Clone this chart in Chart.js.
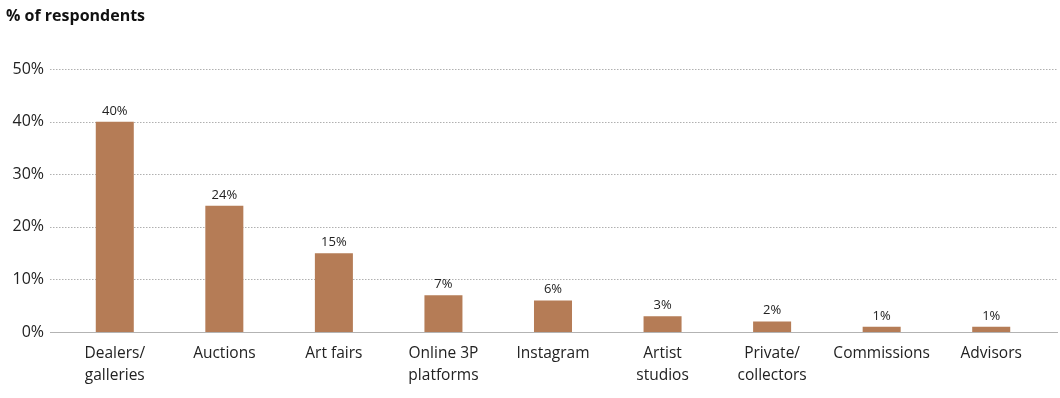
<!DOCTYPE html>
<html>
<head>
<meta charset="utf-8">
<script src="https://cdn.jsdelivr.net/npm/chart.js@4"></script>
<style>
  html, body { margin: 0; padding: 0; background: #fff; }
  #chart { display: block; }
</style>
</head>
<body>
<canvas id="chart" width="1060" height="398"></canvas>
<script>
var categories = [
  ['Dealers/', 'galleries'],
  'Auctions',
  'Art fairs',
  ['Online 3P', 'platforms'],
  'Instagram',
  ['Artist', 'studios'],
  ['Private/', 'collectors'],
  'Commissions',
  'Advisors'
]
var shares = [40, 24, 15, 7, 6, 3, 2, 1, 1]
var yTicks = [0, 10, 20, 30, 40, 50]

var FONT = "'Open Sans', 'Noto Sans', sans-serif"
var barColor = '#b57c56'

// dotted grid lines that run a bit wider than the plot area, like the original
var gridPlugin = {
  id: 'dottedGrid',
  beforeDatasetsDraw: function (chart) {
    var ctx = chart.ctx
    var y = chart.scales.y
    ctx.save()
    yTicks.forEach(function (t) {
      var py = Math.round(y.getPixelForValue(t)) + 0.5
      ctx.beginPath()
      if (t === 0) {
        ctx.setLineDash([])
        ctx.strokeStyle = '#b3b3b3'
      } else {
        ctx.setLineDash([1.5, 1.5])
        ctx.strokeStyle = '#b0b0b0'
      }
      ctx.lineWidth = 1
      ctx.moveTo(50, py)
      ctx.lineTo(chart.width - 2, py)
      ctx.stroke()
    })
    ctx.restore()
  }
}

// value labels above the bars
var valueLabels = {
  id: 'valueLabels',
  afterDatasetsDraw: function (chart) {
    var ctx = chart.ctx
    var meta = chart.getDatasetMeta(0)
    ctx.save()
    ctx.font = '13px ' + FONT
    ctx.fillStyle = '#222'
    ctx.textAlign = 'center'
    ctx.textBaseline = 'alphabetic'
    meta.data.forEach(function (bar, i) {
      ctx.fillText(shares[i] + '%', bar.x, bar.y - 7)
    })
    ctx.restore()
  }
}

var ctx = document.getElementById('chart').getContext('2d')
var chart = new Chart(ctx, {
  type: 'bar',
  data: {
    labels: categories,
    datasets: [{
      label: '% of respondents',
      data: shares,
      backgroundColor: barColor,
      barPercentage: 0.347,
      categoryPercentage: 1
    }]
  },
  options: {
    responsive: false,
    animation: false,
    layout: { padding: { left: 6, right: 14, top: 0, bottom: 0 } },
    plugins: {
      legend: { display: false },
      tooltip: { enabled: false },
      title: {
        display: true,
        text: '% of respondents',
        align: 'start',
        color: '#111',
        font: { family: FONT, size: 16, weight: 'bold' },
        padding: { top: 7, bottom: 43 }
      }
    },
    scales: {
      x: {
        grid: { display: false, drawTicks: false },
        border: { display: false },
        ticks: {
          color: '#222',
          font: { family: FONT, size: 15.5, lineHeight: 1.42 },
          padding: 11,
          maxRotation: 0,
          autoSkip: false
        }
      },
      y: {
        min: 0,
        max: 50,
        afterFit: function (scale) { scale.width = 54 },
        afterBuildTicks: function (scale) {
          scale.ticks = yTicks.map(function (v) { return { value: v } })
        },
        grid: { display: false, drawTicks: false },
        border: { display: false },
        ticks: {
          color: '#222',
          font: { family: FONT, size: 16 },
          padding: 16,
          callback: function (v) { return v + '%' }
        }
      }
    }
  },
  plugins: [gridPlugin, valueLabels]
})
</script>
</body>
</html>
